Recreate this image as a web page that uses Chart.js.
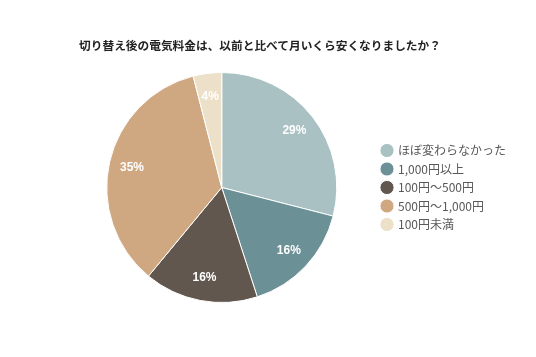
<!DOCTYPE html>
<html lang="ja">
<head>
<meta charset="utf-8">
<style>
  html, body { margin: 0; padding: 0; background: #fff; }
  #wrap { width: 536px; height: 357px; position: relative; }
  #title {
    position: absolute; left: 60px; width: 400px; top: 37px;
    text-align: center; font: bold 11.7px "Noto Sans CJK JP", sans-serif;
    line-height: 16px; color: #222;
  }
</style>
<script src="https://cdn.jsdelivr.net/npm/chart.js@4/dist/chart.umd.min.js"></script>
</head>
<body>
<div id="wrap">
  <canvas id="pie"></canvas>
  <div id="title"></div>
</div>
<script>
const TITLE = '切り替え後の電気料金は、以前と比べて月いくら安くなりましたか？';
const categories = ['ほぼ変わらなかった', '1,000円以上', '100円～500円', '500円～1,000円', '100円未満'];
const shares = [29, 16, 16, 35, 4];
const colors = ['#a9c1c2', '#6b9096', '#62574e', '#cfa882', '#ede0c8'];

const FONT = '"Noto Sans CJK JP", "Liberation Sans", sans-serif';

document.getElementById('title').textContent = TITLE;

// white percentage labels inside each slice
const sliceLabels = {
  id: 'sliceLabels',
  afterDatasetsDraw(chart) {
    const { ctx } = chart;
    const meta = chart.getDatasetMeta(0);
    ctx.save();
    ctx.fillStyle = '#fff';
    ctx.font = 'bold 12px "Liberation Sans", Arial, sans-serif';
    ctx.textAlign = 'center';
    ctx.textBaseline = 'middle';
    meta.data.forEach((arc, i) => {
      const { x, y, startAngle, endAngle, outerRadius } = arc.getProps(['x', 'y', 'startAngle', 'endAngle', 'outerRadius'], true);
      const mid = (startAngle + endAngle) / 2;
      const r = outerRadius * 0.8;
      ctx.fillText(`${shares[i]}%`, x + Math.cos(mid) * r, y + Math.sin(mid) * r);
    });
    ctx.restore();
  }
};

new Chart(document.getElementById('pie'), {
  type: 'pie',
  data: {
    labels: categories,
    datasets: [{ data: shares, backgroundColor: colors, borderColor: '#fff', borderWidth: 1 }]
  },
  options: {
    responsive: true,
    maintainAspectRatio: false,
    animation: false,
    layout: { padding: { left: 68, right: 20, top: 72, bottom: 54 } },
    plugins: {
      title: { display: false },
      legend: {
        position: 'right',
        labels: {
          usePointStyle: true,
          pointStyle: 'circle',
          boxWidth: 10,
          boxHeight: 10,
          padding: 6.5,
          color: '#595959',
          font: { family: FONT, size: 12 }
        }
      },
      tooltip: { enabled: false }
    }
  },
  plugins: [sliceLabels]
});
</script>
</body>
</html>
